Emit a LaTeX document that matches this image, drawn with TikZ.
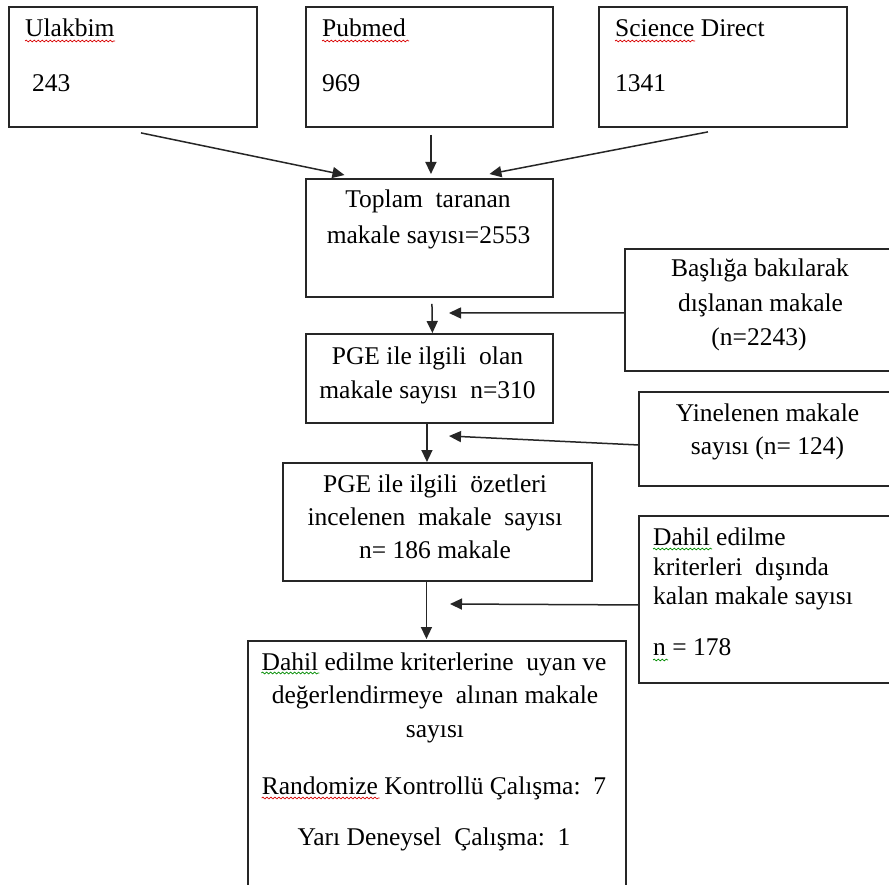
\documentclass[tikz,border=0pt]{standalone}
\usepackage{fontspec}
\setmainfont{Liberation Serif}
\usetikzlibrary{arrows.meta,calc,decorations.pathmorphing}
\begin{document}
\begin{tikzpicture}[x=1pt,y=-1pt,
  box/.style={draw=black!85, line width=1.9pt, anchor=north west, inner sep=0pt},
  txt/.style={font=\fontsize{25.5}{30}\selectfont, inner sep=0pt, text=black},
  tl/.style={txt, anchor=base west},
  tc/.style={txt, anchor=base},
  arr/.style={-{Triangle[length=12pt,width=11pt]}, line width=1.5pt, draw=black!85},
  wavyred/.style={draw=red!85!black, line width=0.7pt, decorate, decoration={snake, amplitude=0.9pt, segment length=4pt}},
  wavygreen/.style={draw=green!55!black, line width=0.7pt, decorate, decoration={snake, amplitude=0.9pt, segment length=4pt}}]
\useasboundingbox (0,0) rectangle (889,885);
\fill[white] (0,0) rectangle (889,885);
\clip (0,0) rectangle (889,885);

% boxes
\node[box, minimum width=248pt, minimum height=120pt] (ula) at (8,6) {};
\node[box, minimum width=247pt, minimum height=120pt] (pub) at (305,6) {};
\node[box, minimum width=248pt, minimum height=120pt] (sci) at (598,6) {};
\node[box, minimum width=247pt, minimum height=118pt] (top) at (305,178) {};
\node[box, minimum width=280pt, minimum height=122pt] (bas) at (624,248) {};
\node[box, minimum width=247pt, minimum height=89pt] (pge) at (305,333) {};
\node[box, minimum width=270pt, minimum height=94pt] (yin) at (638,391) {};
\node[box, minimum width=309pt, minimum height=118pt] (oze) at (282,462) {};
\node[box, minimum width=270pt, minimum height=167pt] (dah) at (638,515) {};
\node[box, minimum width=378pt, minimum height=280pt] (fin) at (247,640) {};

% texts
\node[tl] (u1) at (25,37) {Ulakbim};
\node[tl] (u2) at (32,92) {243};
\node[tl] (p1) at (322,37) {Pubmed};
\node[tl] (p2) at (322,92) {969};
\node[tl] (s1) at (615,37) {Science Direct};
\node[tl] (s2) at (615,92) {1341};
\node[tc] (t1) at (428,208) {Toplam\ \ taranan};
\node[tc] (t2) at (428.5,244) {makale sayısı=2553};
\node[tc] (b1) at (760,277) {Başlığa bakılarak};
\node[tc] (b2) at (760.5,312) {dışlanan makale};
\node[tc] (b3) at (759,345) {(n=2243)};
\node[tc] (g1) at (427.5,364) {PGE ile ilgili\ \ olan};
\node[tc] (g2) at (427.5,398) {makale sayısı\ \ n=310};
\node[tc] (y1) at (767.5,421) {Yinelenen makale};
\node[tc] (y2) at (767.5,454) {sayısı (n= 124)};
\node[tc] (o1) at (435,492) {PGE ile ilgili\ \ özetleri};
\node[tc] (o2) at (435,525) {incelenen\ \ makale\ \ sayısı};
\node[tc] (o3) at (435,558) {n= 186 makale};
\node[tl] (d1) at (653,545) {Dahil edilme};
\node[tl] (d2) at (653,575) {kriterleri\ \ dışında};
\node[tl] (d3) at (653,604) {kalan makale sayısı};
\node[tl] (d4) at (653,655) {n = 178};
\node[tc] (f1) at (434,670) {Dahil edilme kriterlerine\ \ uyan ve};
\node[tc] (f2) at (435,703) {değerlendirmeye\ \ alınan makale};
\node[tc] (f3) at (435,737) {sayısı};
\node[tc] (f4) at (434,794) {Randomize Kontrollü Çalışma:\ \ 7};
\node[tc] (f5) at (434,845) {Yarı Deneysel\ \ Çalışma:\ \ 1};

% spell-check squiggles
\draw[wavyred] ($(u1.base west)+(0,4)$) -- ++(90,0);
\draw[wavyred] ($(p1.base west)+(0,4)$) -- ++(87,0);
\draw[wavyred] ($(s1.base west)+(0,4)$) -- ++(80,0);
\draw[wavygreen] ($(d1.base west)+(0,4)$) -- ++(59,0);
\draw[wavygreen] ($(d4.base west)+(0,5)$) -- ++(15,0);
\draw[wavygreen] ($(f1.base west)+(0,3)$) -- ++(58,0);
\draw[wavyred] ($(f4.base west)+(0,4)$) -- ++(118,0);

% connector end points
\coordinate (e1) at (449,313);
\coordinate (e2) at (449,436);
\coordinate (e3) at (450,604);

% connectors
\draw[arr] ($(ula.south)+(8,5)$) -- ($(top.north)+(-85,-3)$);
\draw[arr] ($(pub.south)+(1.5,7)$) -- ($(top.north)+(1.5,-4)$);
\draw[arr] ($(sci.south)+(-15,4)$) -- ($(top.north)+(60,-4)$);
\draw[arr] ($(top.south)+(2.5,6)$) -- ($(pge.north)+(3,0)$);
\draw[arr] ($(bas.west)+(0,3)$) -- (e1);
\draw[arr] ($(pge.south)+(-2.5,0)$) -- ($(oze.north)+(-10.5,0)$);
\draw[arr] ($(yin.west)+(0,6)$) -- (e2);
\draw[arr] ($(oze.south)+(-11,0)$) -- ($(fin.north)+(-10.5,-1)$);
\draw[arr] ($(dah.west)+(0,5.5)$) -- (e3);
\end{tikzpicture}
\end{document}
